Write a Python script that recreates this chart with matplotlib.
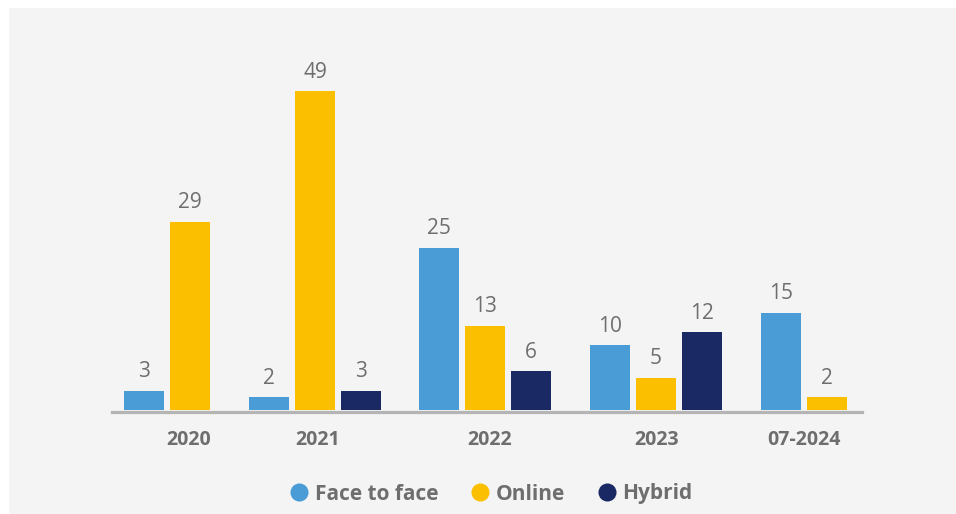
import numpy as np
import matplotlib.pyplot as plt
from matplotlib.patches import Rectangle
from matplotlib.lines import Line2D

# Data
years = ["2020", "2021", "2022", "2023", "07-2024"]
face_to_face = [3, 2, 25, 10, 15]
online = [29, 49, 13, 5, 2]
hybrid = [None, 3, 6, 12, None]

series_names = ["Face to face", "Online", "Hybrid"]
colors = ["#4a9cd7", "#fbbf00", "#1a2863"]

# Layout (x in pixel-like units of the axis)
group_start = [144, 269, 439, 610, 781]
bar_step = 46
bar_width = 40
label_x = [189, 318, 490, 657, 804]

plt.rcParams['font.family'] = ['Open Sans', 'DejaVu Sans']

fig = plt.figure(figsize=(9.56, 5.14), dpi=100)
fig.patches.append(Rectangle((9 / 956, 0), 1, 1 - 8 / 514, transform=fig.transFigure,
                             facecolor="#f4f4f4", edgecolor="none", zorder=-10))

ax = fig.add_axes([112 / 956, (514 - 412) / 514, 750 / 956, 352 / 514])
ax.set_facecolor("none")

px_per_unit = 6.51
ax.set_xlim(112, 862)
ax.set_ylim(-0.25, 352 / px_per_unit - 0.25)

for s, (vals, col) in enumerate(zip([face_to_face, online, hybrid], colors)):
    for g, v in enumerate(vals):
        if v is None:
            continue
        x = group_start[g] + s * bar_step
        ax.bar(x, v, width=bar_width, color=col, zorder=3)
        ax.text(x, v + 1.3, str(v), ha="center", va="bottom",
                fontsize=15, color="#6e6e6e")

ax.axhline(-0.25, color="#b4b4b4", lw=2.3, zorder=2, clip_on=False)

for side in ["top", "right", "left", "bottom"]:
    ax.spines[side].set_visible(False)
ax.set_yticks([])
ax.set_xticks(label_x, years)
ax.tick_params(axis="x", length=0, pad=13, labelsize=14, labelcolor="#6e6e6e")
for lbl in ax.get_xticklabels():
    lbl.set_fontweight("bold")

handles = [Line2D([], [], marker="o", linestyle="none", markersize=13,
                  markerfacecolor=c, markeredgecolor="none") for c in colors]
fig.legend(handles, series_names, loc="center", bbox_to_anchor=(489 / 956, 1 - 494 / 514),
           ncol=3, frameon=False, handletextpad=0.1, columnspacing=1.35, handlelength=1.3,
           prop={"weight": "bold", "size": 15}, labelcolor="#6e6e6e")

fig.savefig("out.png", dpi=100, facecolor="white")
